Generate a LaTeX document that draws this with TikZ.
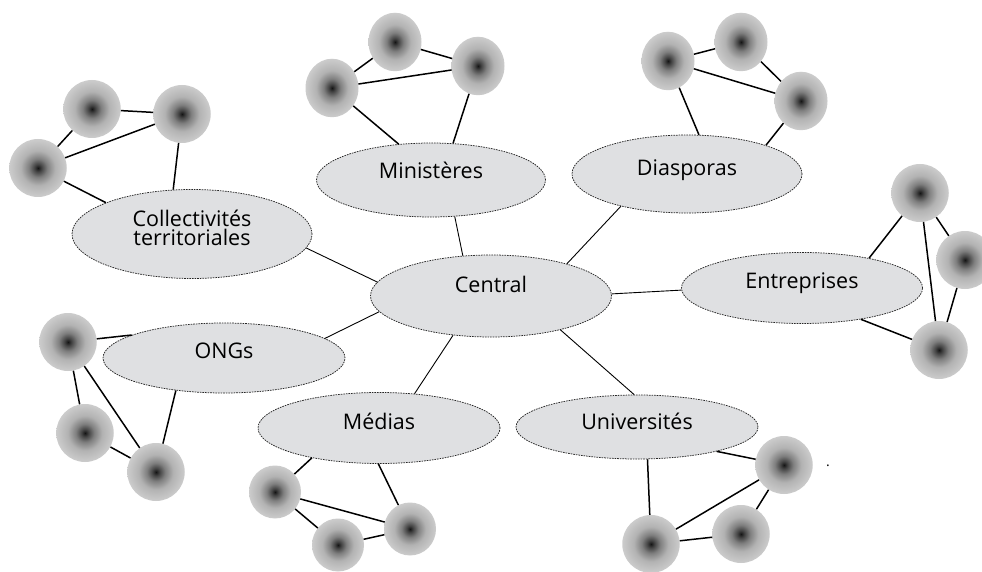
\documentclass[tikz,border=0pt]{standalone}
\usepackage{fontspec}
\setmainfont{Open Sans}
\usetikzlibrary{shapes.geometric}

% dark core fading to light grey at the rim of each actor disc
\pgfdeclareradialshading{ballshade}{\pgfpointorigin}{%
  color(0bp)=(black!92);
  color(3bp)=(black!74);
  color(8bp)=(black!50);
  color(15bp)=(black!30);
  color(25bp)=(black!20);
  color(50bp)=(black!20)}
\definecolor{hubfill}{RGB}{223,224,226}

\tikzset{
  hub/.style={ellipse, draw=black!85, dash pattern=on 1.6pt off 1pt,
    line width=0.75pt, fill=hubfill, inner sep=0pt,
    text height=0pt, text depth=0pt,
    font=\fontsize{21.5}{15}\selectfont},
  ball/.style={ellipse, inner sep=0pt, shade, shading=ballshade,
    minimum width=57.5pt, minimum height=58pt},
  tallball/.style={ball, minimum width=53pt, minimum height=58.5pt},
  smallball/.style={ball, minimum width=52pt, minimum height=53pt},
  tie/.style={line width=1.5pt, black},
  spoke/.style={line width=0.9pt, black}
}

\begin{document}
\begin{tikzpicture}[x=1pt, y=-1pt]
\useasboundingbox (0,0) rectangle (982,572);

% ---- the central hub and its partner groups ----
\node[hub, minimum width=241pt, minimum height=82pt] (cen) at (491,296) {\raisebox{3.7pt}{Central}};
\node[hub, minimum width=240pt, minimum height=89pt] (col) at (192,234)
  {\raisebox{-11.5pt}{\vbox{\baselineskip=19.5pt\lineskiplimit=-30pt
    \hbox to 140pt{\hss Collectivités\hss}\hbox to 140pt{\hss territoriales\hss}}}};
\node[hub, minimum width=229pt, minimum height=74pt] (min) at (431,180) {\raisebox{1pt}{Ministères}};
\node[hub, minimum width=230pt, minimum height=78pt] (dia) at (687,174) {\raisebox{-1.7pt}{Diasporas}};
\node[hub, minimum width=241pt, minimum height=71pt] (ent) at (802,288) {Entreprises};
\node[hub, minimum width=242pt, minimum height=70pt] (ong) at (224,358) {ONGs};
\node[hub, minimum width=242pt, minimum height=71pt] (med) at (379,428) {\raisebox{-1pt}{Médias}};
\node[hub, minimum width=242pt, minimum height=64pt] (uni) at (637,427) {\raisebox{-2.3pt}{Universités}};

% ---- actor discs ----
\node[ball] (a1) at (92,109) {};
\node[ball] (a2) at (182,114) {};
\node[ball] (a3) at (38,168) {};

\node[tallball] (b1) at (395,42) {};
\node[tallball] (b2) at (478,66) {};
\node[tallball] (b3) at (332,88) {};

\node[tallball] (c1) at (668,61) {};
\node[tallball] (c2) at (741,42) {};
\node[tallball] (c3) at (801,101) {};

\node[ball] (d1) at (920,193) {};
\node[ball] (d2) at (965,260) {};
\node[ball] (d3) at (939,350) {};

\node[ball] (e1) at (68,342) {};
\node[ball] (e2) at (85,433) {};
\node[ball] (e3) at (156,472) {};

\node[smallball] (f1) at (275,492) {};
\node[smallball] (f2) at (338,545) {};
\node[smallball] (f3) at (410,529) {};

\node[ball] (g1) at (784,465) {};
\node[ball] (g2) at (741,534) {};
\node[ball] (g3) at (651,544) {};

\node[inner sep=0pt, anchor=base, font=\fontsize{14}{14}\selectfont] (pt) at (828,466) {.};

% ---- spokes from the hub ----
\draw[spoke] (cen.125.3) -- (min.-57);
\draw[spoke] (cen.23.5) -- (dia.-154.8);
\draw[spoke] (cen.1.4) -- (ent.-179);
\draw[spoke] (cen.-26.9) -- (uni.95);
\draw[spoke] (cen.-134) -- (med.44);
\draw[spoke] (cen.-172) -- (ong.11.5);
\draw[spoke] (cen.173.8) -- (col.-7.5);

% ---- ties inside each group ----
\draw[tie] (a1) -- (a2);  \draw[tie] (a1) -- (a3);  \draw[tie] (a3) -- (a2);
\draw[tie] (a3) -- (col.160.4);  \draw[tie] (a2) -- (col.113.4);

\draw[tie] (b1) -- (b2);  \draw[tie] (b1) -- (b3);  \draw[tie] (b3) -- (b2);
\draw[tie] (b3) -- (min.132.5);  \draw[tie] (b2) -- (min.59.3);

\draw[tie] (c1) -- (c2);  \draw[tie] (c2) -- (c3);  \draw[tie] (c1) -- (c3);
\draw[tie] (c1) -- (dia.73);  \draw[tie] (c3) -- (dia.20);

\draw[tie] (d1) -- (d2);  \draw[tie] (d2) -- (d3);  \draw[tie] (d1) -- (d3);
\draw[tie] (d1) -- (ent.24.8);  \draw[tie] (d3) -- (ent.-28.4);

\draw[tie] (e1) -- (e2);  \draw[tie] (e1) -- (e3);  \draw[tie] (e2) -- (e3);
\draw[tie] (e1) -- (ong.166.8);  \draw[tie] (e3) -- (ong.-146.9);

\draw[tie] (f1) -- (f2);  \draw[tie] (f2) -- (f3);  \draw[tie] (f1) -- (f3);
\draw[tie] (f1) -- (med.-156.8);  \draw[tie] (f3) -- (med.-91.5);

\draw[tie] (g1) -- (g2);  \draw[tie] (g2) -- (g3);  \draw[tie] (g3) -- (g1);
\draw[tie] (g3) -- (uni.-72.6);  \draw[tie] (g1) -- (uni.-17.9);
\end{tikzpicture}
\end{document}
